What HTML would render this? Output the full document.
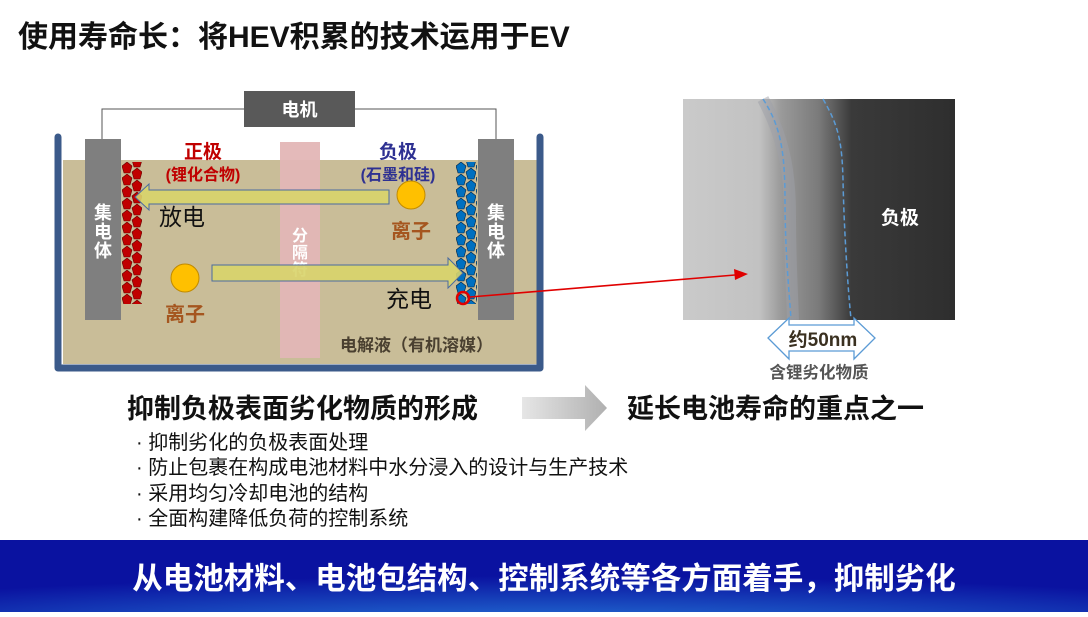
<!DOCTYPE html>
<html><head><meta charset="utf-8"><style>
html,body{margin:0;padding:0;background:#fff;}
body{width:1088px;height:612px;overflow:hidden;position:relative;font-family:"Liberation Sans","Noto Sans CJK SC",sans-serif;}
svg text{font-family:"Liberation Sans","Noto Sans CJK SC",sans-serif;}
</style></head><body>
<svg width="1088" height="612" viewBox="0 0 1088 612" xmlns="http://www.w3.org/2000/svg">
<defs>
<pattern id="pr" x="122" y="162" width="20" height="12" patternUnits="userSpaceOnUse">
<polygon points="5,0 10,4 8,11 2,11 0,4" fill="#c00000" stroke="#600" stroke-width="0.6"/>
<polygon points="15,6 20,10 18,17 12,17 10,10" fill="#c00000" stroke="#600" stroke-width="0.6"/>
<polygon points="15,-6 20,-2 18,5 12,5 10,-2" fill="#c00000" stroke="#600" stroke-width="0.6"/>
</pattern>
<pattern id="pb" x="456" y="162" width="20" height="12" patternUnits="userSpaceOnUse">
<polygon points="5,0 10,4 8,11 2,11 0,4" fill="#0070c0" stroke="#024" stroke-width="0.6"/>
<polygon points="15,6 20,10 18,17 12,17 10,10" fill="#0070c0" stroke="#024" stroke-width="0.6"/>
<polygon points="15,-6 20,-2 18,5 12,5 10,-2" fill="#0070c0" stroke="#024" stroke-width="0.6"/>
</pattern>
<linearGradient id="tem" x1="0" x2="1" y1="0" y2="0">
<stop offset="0" stop-color="#cacaca"/><stop offset="0.28" stop-color="#c2c2c2"/>
<stop offset="0.36" stop-color="#9a9a9a"/><stop offset="0.5" stop-color="#7a7a7a"/>
<stop offset="0.62" stop-color="#3a3a3a"/><stop offset="1" stop-color="#2e2e2e"/>
</linearGradient>
<radialGradient id="band" cx="0.5" cy="1.3" r="0.8">
<stop offset="0" stop-color="#2b85dc"/><stop offset="0.45" stop-color="#1a50c2"/><stop offset="1" stop-color="#0a12a0"/>
</radialGradient>
<linearGradient id="ga" x1="0" x2="1"><stop offset="0" stop-color="#e6e6e6"/><stop offset="1" stop-color="#b0b0b0"/></linearGradient>
</defs>

<text x="18" y="47" font-size="30" font-weight="bold" fill="#111">使用寿命长：将HEV积累的技术运用于EV</text>

<polyline points="102,139 102,109 244,109" fill="none" stroke="#555" stroke-width="1"/>
<polyline points="355,109 496,109 496,139" fill="none" stroke="#555" stroke-width="1"/>
<rect x="244" y="91" width="111" height="36" fill="#595959"/>
<text x="299.5" y="116" font-size="18" font-weight="bold" fill="#fff" text-anchor="middle">电机</text>

<rect x="63" y="160" width="474" height="204" fill="#c9bd98"/>
<path d="M58,137 V368 H540 V137" fill="none" stroke="#3b5a8a" stroke-width="7" stroke-linejoin="round" stroke-linecap="round"/>
<rect x="280" y="142" width="40" height="216" fill="#e3b6b6" opacity="0.95"/>
<rect x="85" y="139" width="36" height="181" fill="#7f7f7f"/>
<rect x="478" y="139" width="36" height="181" fill="#7f7f7f"/>
<g font-size="18" font-weight="bold" fill="#fff" text-anchor="middle">
<text x="103" y="219">集</text><text x="103" y="238">电</text><text x="103" y="257">体</text>
<text x="496" y="219">集</text><text x="496" y="238">电</text><text x="496" y="257">体</text>
</g>
<rect x="122" y="162" width="20" height="142" fill="url(#pr)"/>
<rect x="456" y="162" width="21" height="142" fill="url(#pb)"/>
<g font-size="16" font-weight="bold" fill="#fff" text-anchor="middle">
<text x="300" y="241">分</text><text x="300" y="258">隔</text><text x="300" y="275">符</text>
</g>

<text x="203" y="158" font-size="19" font-weight="bold" fill="#c00000" text-anchor="middle">正极</text>
<text x="203" y="180" font-size="16" font-weight="bold" fill="#c00000" text-anchor="middle">(锂化合物)</text>
<text x="398" y="158" font-size="19" font-weight="bold" fill="#2e3192" text-anchor="middle">负极</text>
<text x="398" y="180" font-size="16" font-weight="bold" fill="#2e3192" text-anchor="middle">(石墨和硅)</text>

<polygon points="389,190 149,190 149,184 135,197 149,210 149,204 389,204" fill="#d8d46a" fill-opacity="0.9" stroke="#4a6aa0" stroke-width="1"/>
<polygon points="212,265 448,265 448,258 463,273 448,288 448,281 212,281" fill="#d8d46a" fill-opacity="0.9" stroke="#4a6aa0" stroke-width="1"/>

<circle cx="411" cy="195" r="14" fill="#ffc000" stroke="#c08a00" stroke-width="1"/>
<circle cx="185" cy="278" r="14" fill="#ffc000" stroke="#c08a00" stroke-width="1"/>
<text x="411" y="238" font-size="20" font-weight="bold" fill="#a5561f" text-anchor="middle">离子</text>
<text x="185" y="321" font-size="20" font-weight="bold" fill="#a5561f" text-anchor="middle">离子</text>
<text x="159" y="225" font-size="23" fill="#111">放电</text>
<text x="386" y="307" font-size="23" fill="#111">充电</text>
<text x="340" y="351" font-size="17" font-weight="bold" fill="#4a4030">电解液（有机溶媒）</text>

<rect x="683" y="99" width="272" height="221" fill="url(#tem)"/>
<path d="M763,99 C785,140 790,175 790,215 C790,260 792,290 793,320" fill="none" stroke="#9ea0a8" stroke-width="12" opacity="0.5"/>
<path d="M763,99 C780,125 785,150 785,200 C785,250 789,290 791,319" fill="none" stroke="#5b9bd5" stroke-width="1.5" stroke-dasharray="5,3"/>
<path d="M823,99 C838,125 842,140 843,180 C844,230 848,290 851,319" fill="none" stroke="#5b9bd5" stroke-width="1.5" stroke-dasharray="5,3"/>
<text x="900" y="224" font-size="19" font-weight="bold" fill="#fff" text-anchor="middle">负极</text>

<circle cx="463" cy="298" r="6" fill="none" stroke="#e00000" stroke-width="2.5"/>
<line x1="470" y1="297" x2="735" y2="275" stroke="#e00000" stroke-width="1.6"/>
<polygon points="748,274 734,269 735,280" fill="#e00000"/>

<polygon points="768,338 789,318 789,325 854,325 854,318 875,338 854,359 854,351 789,351 789,359" fill="#fff" stroke="#5b9bd5" stroke-width="1.3"/>
<text x="823" y="346" font-size="19" font-weight="bold" fill="#3a3020" text-anchor="middle">约50nm</text>
<text x="819" y="378" font-size="16.5" font-weight="bold" fill="#555" text-anchor="middle">含锂劣化物质</text>

<text x="127" y="418" font-size="27" font-weight="bold" fill="#111">抑制负极表面劣化物质的形成</text>
<polygon points="522,397 585,397 585,385 607,408 585,431 585,419 522,419" fill="url(#ga)"/>
<text x="627" y="418" font-size="27" font-weight="bold" fill="#111">延长电池寿命的重点之一</text>
<g font-size="20" fill="#111">
<text x="136" y="449">· 抑制劣化的负极表面处理</text>
<text x="136" y="474">· 防止包裹在构成电池材料中水分浸入的设计与生产技术</text>
<text x="136" y="500">· 采用均匀冷却电池的结构</text>
<text x="136" y="525">· 全面构建降低负荷的控制系统</text>
</g>

<rect x="0" y="540" width="1088" height="72" fill="url(#band)"/>
<text x="544" y="589" font-size="30.5" font-weight="bold" fill="#fff" text-anchor="middle">从电池材料、电池包结构、控制系统等各方面着手，抑制劣化</text>
</svg>
</body></html>
